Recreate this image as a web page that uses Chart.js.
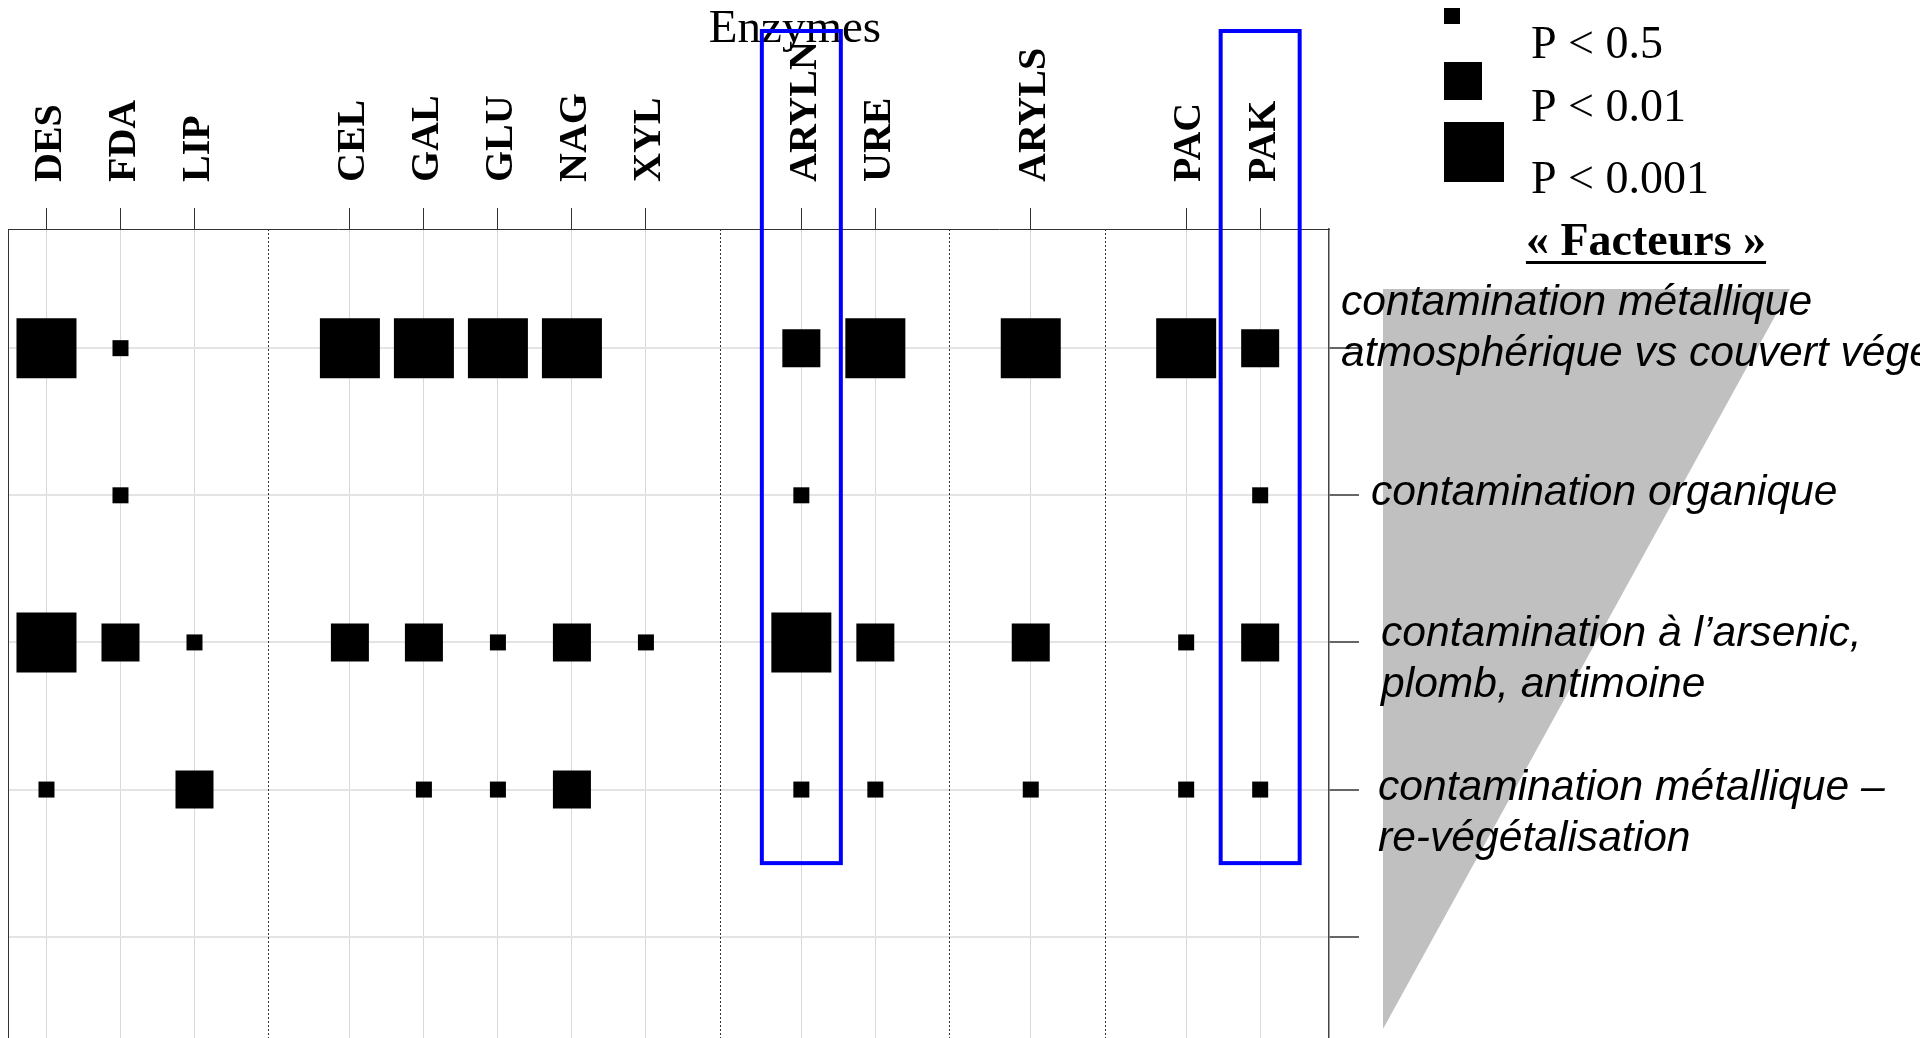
<!DOCTYPE html>
<html lang="fr">
<head>
<meta charset="utf-8">
<title>Enzymes / Facteurs</title>
<script src="https://cdn.jsdelivr.net/npm/chart.js@4/dist/chart.umd.min.js"></script>
<style>
  html, body { margin: 0; padding: 0; background: #fff; overflow: hidden; }
  #wrap { width: 1920px; height: 1038px; overflow: hidden; }
</style>
</head>
<body>
<div id="wrap"><canvas id="enzChart" width="1920" height="1100"></canvas></div>
<script>
// groupes d'enzymes
const enzymeGroups = [
    ['DES', 'FDA', 'LIP'],
    ['CEL', 'GAL', 'GLU', 'NAG', 'XYL'],
    ['ARYLN', 'URE'],
    ['ARYLS'],
    ['PAC', 'PAK']
];

// facteurs (lignes), le dernier est vide
const factors = [
    ['contamination métallique', 'atmosphérique vs couvert végétal'],
    ['contamination organique'],
    ['contamination à l’arsenic,', 'plomb, antimoine'],
    ['contamination métallique –', 're-végétalisation'],
    []
];

const levelLabels = ['P < 0.5', 'P < 0.01', 'P < 0.001'];

// significativité : 0 = rien, 1 = P<0.5, 2 = P<0.01, 3 = P<0.001
// colonnes : DES FDA LIP CEL GAL GLU NAG XYL ARYLN URE ARYLS PAC PAK
const signif = [
    [3, 1, 0, 3, 3, 3, 3, 0, 2, 3, 3, 3, 2],
    [0, 1, 0, 0, 0, 0, 0, 0, 1, 0, 0, 0, 1],
    [3, 2, 1, 2, 2, 1, 2, 1, 3, 2, 2, 1, 2],
    [1, 0, 2, 0, 1, 1, 2, 0, 1, 1, 1, 1, 1],
    [0, 0, 0, 0, 0, 0, 0, 0, 0, 0, 0, 0, 0]
];

const highlighted = ['ARYLN', 'PAK'];

// --- mise en page ---
const GAP = 1.1;                 // largeur d'un espace entre groupes
const squareSide = [16, 38, 60]; // côté des carrés par niveau

const enzymes = [];
const slots = [];
const dividers = [];
enzymeGroups.forEach(function (group, gi) {
    group.forEach(function (name) {
        enzymes.push(name);
        slots.push(enzymes.length - 1 + gi * GAP);
    });
    if (gi < enzymeGroups.length - 1) {
        dividers.push(slots[slots.length - 1] + 1);
    }
});

const datasets = levelLabels.map(function (label, li) {
    const pts = [];
    signif.forEach(function (row, r) {
        row.forEach(function (v, e) {
            if (v === li + 1) pts.push({ x: slots[e], y: r + 1 });
        });
    });
    return {
        label: label,
        data: pts,
        pointStyle: 'rect',
        pointRadius: squareSide[li] / Math.SQRT2,
        backgroundColor: '#000',
        borderWidth: 0
    };
});

const decorPlugin = {
    id: 'decor',
    beforeDatasetsDraw(chart) {
        const { ctx, chartArea: ca, scales: { x } } = chart;
        ctx.save();
        ctx.strokeStyle = '#333';
        ctx.lineWidth = 1;
        ctx.setLineDash([2, 2]);
        dividers.forEach(function (d) {
            const px = Math.round(x.getPixelForValue(d)) + 0.5;
            ctx.beginPath();
            ctx.moveTo(px, ca.top);
            ctx.lineTo(px, ca.bottom);
            ctx.stroke();
        });
        ctx.restore();
    },
    afterDraw(chart) {
        const { ctx, chartArea: ca, scales: { x, y } } = chart;
        ctx.save();

        // triangle gris
        ctx.fillStyle = '#c0c0c0';
        ctx.beginPath();
        ctx.moveTo(ca.right + 54, 289);
        ctx.lineTo(ca.right + 461, 289);
        ctx.lineTo(ca.right + 54, 1029);
        ctx.closePath();
        ctx.fill();

        // noms des facteurs
        ctx.fillStyle = '#000';
        ctx.font = 'italic 42.6px "Liberation Sans"';
        ctx.textAlign = 'left';
        ctx.textBaseline = 'middle';
        const dx = [12, 42, 52, 49];
        const dy = [-45, -2, -8, -1];
        factors.forEach(function (lines, i) {
            if (!lines.length) return;
            const y0 = y.getPixelForValue(i + 1) + dy[i];
            lines.forEach(function (t, k) {
                ctx.fillText(t, ca.right + dx[i], y0 + k * 51);
            });
        });

        // légende
        const legTop = [8, 62, 122];
        const legBase = [58, 121, 193];
        ctx.font = '46px "Liberation Serif"';
        ctx.textBaseline = 'alphabetic';
        chart.data.datasets.forEach(function (ds, i) {
            ctx.fillStyle = '#000';
            ctx.fillRect(1444, legTop[i], squareSide[i], squareSide[i]);
            ctx.fillText(ds.label, 1531, legBase[i]);
        });

        // titre « Facteurs »
        ctx.font = 'bold 46px "Liberation Serif"';
        ctx.textAlign = 'center';
        const ft = '« Facteurs »';
        ctx.fillText(ft, 1646, 255);
        const fw = ctx.measureText(ft).width;
        ctx.fillRect(1646 - fw / 2, 261, fw, 3);

        // titre Enzymes
        ctx.font = '47px "Liberation Serif"';
        ctx.fillText('Enzymes', 795, 42);

        // cadres bleus
        ctx.strokeStyle = '#0000ff';
        ctx.lineWidth = 4;
        const yBottom = y.getPixelForValue(4.5);
        highlighted.forEach(function (name) {
            const cx = x.getPixelForValue(slots[enzymes.indexOf(name)]);
            ctx.strokeRect(cx - 39.5, 31, 79, yBottom - 31);
        });

        ctx.restore();
    }
};

new Chart(document.getElementById('enzChart').getContext('2d'), {
    type: 'scatter',
    data: { datasets: datasets },
    plugins: [decorPlugin],
    options: {
        responsive: false,
        animation: false,
        events: [],
        layout: { autoPadding: false, padding: { left: 8, right: 0, top: 0, bottom: 0 } },
        plugins: {
            legend: { display: false },
            tooltip: { enabled: false }
        },
        scales: {
            x: {
                type: 'linear',
                position: 'top',
                min: -0.52,
                max: 17.33,
                afterBuildTicks: function (s) {
                    s.ticks = slots.map(function (v) { return { value: v }; });
                },
                afterFit: function (s) {
                    s.height = 229;
                    s.paddingLeft = 0;
                    s.paddingRight = 0;
                },
                ticks: {
                    autoSkip: false,
                    minRotation: 90,
                    maxRotation: 90,
                    padding: 26,
                    labelOffset: 52,
                    color: '#000',
                    font: { family: 'Liberation Serif', size: 40, weight: 'bold' },
                    callback: function (value, index) { return enzymes[index]; }
                },
                grid: {
                    color: '#d9d9d9',
                    lineWidth: 1,
                    tickColor: '#333',
                    tickLength: 21,
                    tickWidth: 1
                },
                border: { display: true, color: '#333', width: 1 }
            },
            y: {
                type: 'linear',
                position: 'right',
                reverse: true,
                min: 0.19,
                max: 6.11,
                afterBuildTicks: function (s) {
                    s.ticks = factors.map(function (f, i) { return { value: i + 1 }; });
                },
                afterFit: function (s) {
                    s.width = 591;
                },
                ticks: { display: false },
                grid: {
                    color: '#e4e4e4',
                    lineWidth: 2,
                    tickColor: '#666',
                    tickLength: 30,
                    tickWidth: 2
                },
                border: { display: true, color: '#444', width: 1.5 }
            },
            yl: {
                type: 'linear',
                position: 'left',
                ticks: { display: false },
                grid: { drawOnChartArea: false, drawTicks: false },
                afterFit: function (s) { s.width = 0; },
                border: { display: true, color: '#333', width: 1 }
            }
        }
    }
});
</script>
</body>
</html>
